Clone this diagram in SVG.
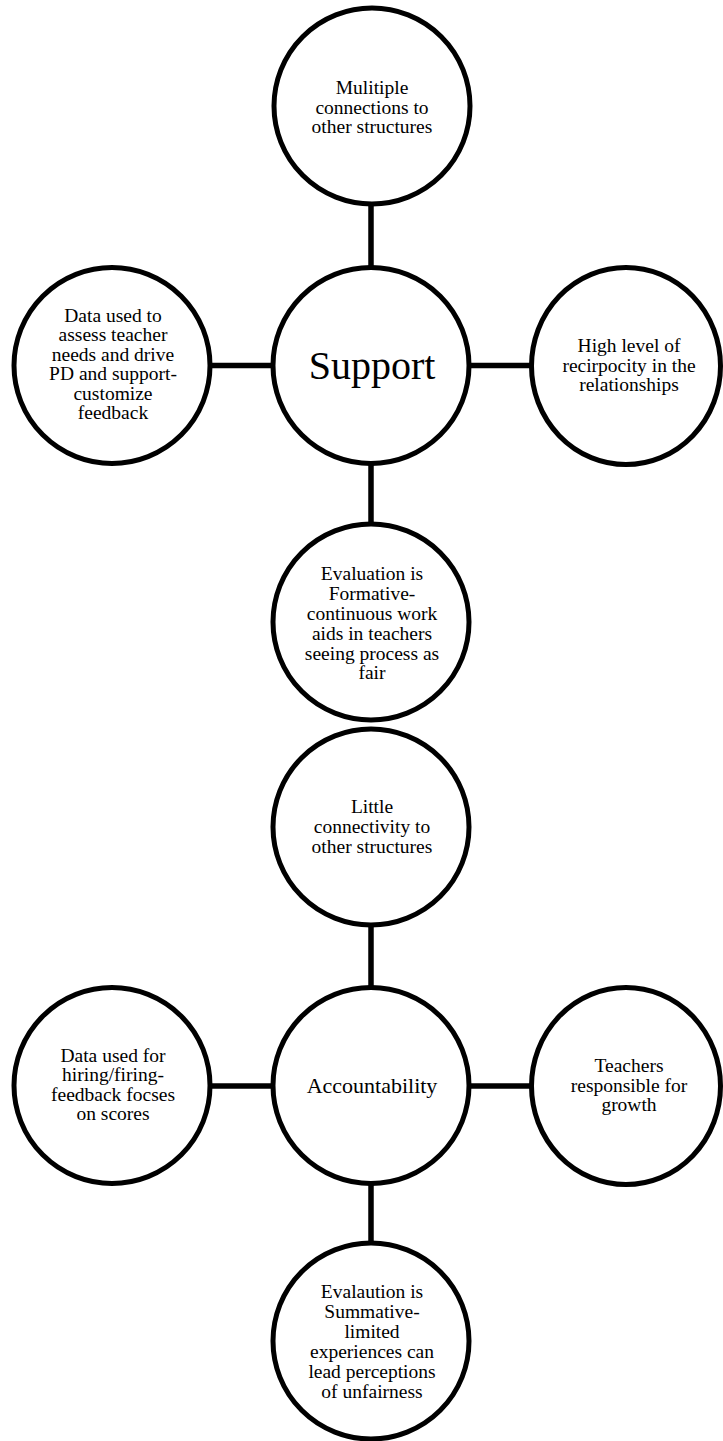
<svg xmlns="http://www.w3.org/2000/svg" width="723" height="1441" viewBox="0 0 723 1441">
<style>
.n{fill:#fff;stroke:#000;stroke-width:5}
.c{stroke:#000;stroke-width:5.5;fill:none}
text{font-family:"Liberation Serif","Times New Roman",serif;font-size:19.5px;fill:#000;text-anchor:middle}
.big{font-size:40px}
.mid{font-size:22px}
</style>
<rect width="723" height="1441" fill="#fff"/>
<g id="connectors">
<line class="c" x1="371" y1="200" x2="371" y2="270"/>
<line class="c" x1="371" y1="460" x2="371" y2="528"/>
<line class="c" x1="205" y1="365.5" x2="278" y2="365.5"/>
<line class="c" x1="464" y1="365.5" x2="536" y2="365.5"/>
<line class="c" x1="371" y1="920" x2="371" y2="990"/>
<line class="c" x1="371" y1="1178" x2="371" y2="1248"/>
<line class="c" x1="205" y1="1086" x2="278" y2="1086"/>
<line class="c" x1="464" y1="1086" x2="536" y2="1086"/>
</g>
<g id="n-multiple">
<circle class="n" cx="372" cy="106" r="98"/>
<text x="372" y="94">Mulitiple</text>
<text x="372" y="113.5">connections to</text>
<text x="372" y="133">other structures</text>
</g>
<g id="n-support">
<circle class="n" cx="371" cy="365.5" r="98"/>
<text class="big" x="372" y="379">Support</text>
</g>
<g id="n-data-support">
<circle class="n" cx="112" cy="365.5" r="98"/>
<text x="113" y="322">Data used to</text>
<text x="113" y="341">assess teacher</text>
<text x="113" y="361">needs and drive</text>
<text x="113" y="380">PD and support-</text>
<text x="113" y="400">customize</text>
<text x="113" y="419">feedback</text>
</g>
<g id="n-reciprocity">
<ellipse class="n" cx="626" cy="366" rx="94.5" ry="98.5"/>
<text x="629" y="352">High level of</text>
<text x="629" y="371.5">recirpocity in the</text>
<text x="629" y="391">relationships</text>
</g>
<g id="n-formative">
<circle class="n" cx="371" cy="622" r="98"/>
<text x="372" y="580">Evaluation is</text>
<text x="372" y="599.5">Formative-</text>
<text x="372" y="619.5">continuous work</text>
<text x="372" y="639.5">aids in teachers</text>
<text x="372" y="659.5">seeing process as</text>
<text x="372" y="679">fair</text>
</g>
<g id="n-little">
<circle class="n" cx="371" cy="827" r="98"/>
<text x="372" y="813">Little</text>
<text x="372" y="833">connectivity to</text>
<text x="372" y="853">other structures</text>
</g>
<g id="n-accountability">
<circle class="n" cx="371" cy="1085.5" r="98"/>
<text class="mid" x="372" y="1093">Accountability</text>
</g>
<g id="n-data-hiring">
<circle class="n" cx="112" cy="1085.5" r="98"/>
<text x="113" y="1062">Data used for</text>
<text x="113" y="1081">hiring/firing-</text>
<text x="113" y="1101">feedback focses</text>
<text x="113" y="1120">on scores</text>
</g>
<g id="n-teachers">
<ellipse class="n" cx="626" cy="1086" rx="94.5" ry="98.5"/>
<text x="629" y="1072">Teachers</text>
<text x="629" y="1092">responsible for</text>
<text x="629" y="1111">growth</text>
</g>
<g id="n-summative">
<circle class="n" cx="371" cy="1341" r="98"/>
<text x="372" y="1298">Evalaution is</text>
<text x="372" y="1318">Summative-</text>
<text x="372" y="1338">limited</text>
<text x="372" y="1358">experiences can</text>
<text x="372" y="1378">lead perceptions</text>
<text x="372" y="1398">of unfairness</text>
</g>
</svg>
